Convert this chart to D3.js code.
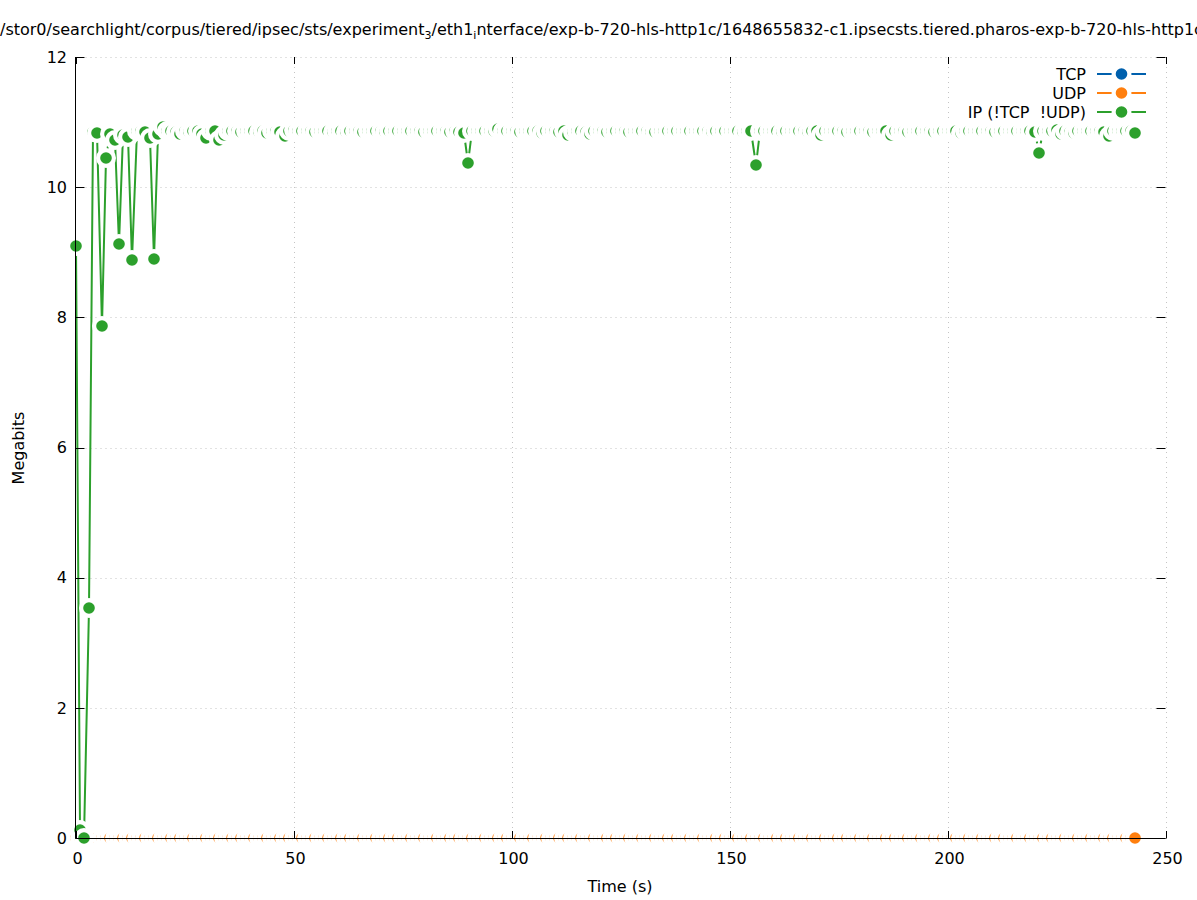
<!DOCTYPE html>
<html><head><meta charset="utf-8">
<script src="https://cdn.jsdelivr.net/npm/d3@7"></script>
<style>
body{margin:0;background:#fff}
svg{display:block;font-family:"DejaVu Sans",sans-serif}
</style>
</head><body>
<svg id="c" width="1197" height="900"></svg>
<script>
// ---- data ----
const times = [
 0,1,2,3,4,5,6,7,8,9,10,11,12,13,14,15,16,17,18,19,
 20,21,22,23,24,25,26,27,28,29,30,31,32,33,34,35,36,37,38,39,
 40,41,42,43,44,45,46,47,48,49,50,51,52,53,54,55,56,57,58,59,
 60,61,62,63,64,65,66,67,68,69,70,71,72,73,74,75,76,77,78,79,
 80,81,82,83,84,85,86,87,88,89,90,91,92,93,94,95,96,97,98,99,
 100,101,102,103,104,105,106,107,108,109,110,111,112,113,114,115,116,117,118,119,
 120,121,122,123,124,125,126,127,128,129,130,131,132,133,134,135,136,137,138,139,
 140,141,142,143,144,145,146,147,148,149,150,151,152,153,154,155,156,157,158,159,
 160,161,162,163,164,165,166,167,168,169,170,171,172,173,174,175,176,177,178,179,
 180,181,182,183,184,185,186,187,188,189,190,191,192,193,194,195,196,197,198,199,
 200,201,202,203,204,205,206,207,208,209,210,211,212,213,214,215,216,217,218,219,
 220,221,222,223,224,225,226,227,228,229,230,231,232,233,234,235,236,237,238,239,
 240,241,242,243
];
const tcpValues = [
 0,0,0,0,0,0,0,0,0,0,0,0,0,0,0,0,0,0,0,0,0,0,0,0,0,0,0,0,0,0,0,0,0,0,0,0,0,0,0,0,
 0,0,0,0,0,0,0,0,0,0,0,0,0,0,0,0,0,0,0,0,0,0,0,0,0,0,0,0,0,0,0,0,0,0,0,0,0,0,0,0,
 0,0,0,0,0,0,0,0,0,0,0,0,0,0,0,0,0,0,0,0,0,0,0,0,0,0,0,0,0,0,0,0,0,0,0,0,0,0,0,0,
 0,0,0,0,0,0,0,0,0,0,0,0,0,0,0,0,0,0,0,0,0,0,0,0,0,0,0,0,0,0,0,0,0,0,0,0,0,0,0,0,
 0,0,0,0,0,0,0,0,0,0,0,0,0,0,0,0,0,0,0,0,0,0,0,0,0,0,0,0,0,0,0,0,0,0,0,0,0,0,0,0,
 0,0,0,0,0,0,0,0,0,0,0,0,0,0,0,0,0,0,0,0,0,0,0,0,0,0,0,0,0,0,0,0,0,0,0,0,0,0,0,0,
 0,0,0,0
];
const udpValues = [
 0,0,0,0,0,0,0,0,0,0,0,0,0,0,0,0,0,0,0,0,0,0,0,0,0,0,0,0,0,0,0,0,0,0,0,0,0,0,0,0,
 0,0,0,0,0,0,0,0,0,0,0,0,0,0,0,0,0,0,0,0,0,0,0,0,0,0,0,0,0,0,0,0,0,0,0,0,0,0,0,0,
 0,0,0,0,0,0,0,0,0,0,0,0,0,0,0,0,0,0,0,0,0,0,0,0,0,0,0,0,0,0,0,0,0,0,0,0,0,0,0,0,
 0,0,0,0,0,0,0,0,0,0,0,0,0,0,0,0,0,0,0,0,0,0,0,0,0,0,0,0,0,0,0,0,0,0,0,0,0,0,0,0,
 0,0,0,0,0,0,0,0,0,0,0,0,0,0,0,0,0,0,0,0,0,0,0,0,0,0,0,0,0,0,0,0,0,0,0,0,0,0,0,0,
 0,0,0,0,0,0,0,0,0,0,0,0,0,0,0,0,0,0,0,0,0,0,0,0,0,0,0,0,0,0,0,0,0,0,0,0,0,0,0,0,
 0,0,0,0
];
const ipValues = [
 9.10, 0.13, 0.00, 3.53, 10.85, 10.83, 7.87, 10.45, 10.81, 10.73,
 9.12, 10.80, 10.77, 8.88, 10.86, 10.87, 10.85, 10.75, 8.90, 10.82,
 10.92, 10.87, 10.86, 10.85, 10.81, 10.86, 10.84, 10.86, 10.87, 10.82,
 10.76, 10.86, 10.87, 10.73, 10.80, 10.86, 10.87, 10.86, 10.85, 10.86,
 10.86, 10.86, 10.85, 10.86, 10.83, 10.86, 10.86, 10.84, 10.78, 10.86,
 10.88, 10.87, 10.86, 10.86, 10.86, 10.85, 10.86, 10.86, 10.86, 10.85,
 10.86, 10.86, 10.85, 10.86, 10.86, 10.86, 10.85, 10.86, 10.86, 10.86,
 10.86, 10.85, 10.86, 10.86, 10.86, 10.86, 10.87, 10.86, 10.86, 10.86,
 10.85, 10.86, 10.86, 10.86, 10.86, 10.86, 10.85, 10.86, 10.84, 10.83,
 10.37, 10.86, 10.86, 10.86, 10.86, 10.86, 10.87, 10.90, 10.86, 10.86,
 10.86, 10.86, 10.85, 10.86, 10.86, 10.86, 10.86, 10.83, 10.86, 10.86,
 10.86, 10.85, 10.87, 10.80, 10.84, 10.86, 10.86, 10.85, 10.82, 10.86,
 10.86, 10.86, 10.85, 10.86, 10.86, 10.86, 10.86, 10.85, 10.86, 10.86,
 10.86, 10.86, 10.85, 10.84, 10.86, 10.86, 10.86, 10.87, 10.86, 10.86,
 10.86, 10.86, 10.86, 10.87, 10.86, 10.86, 10.85, 10.86, 10.86, 10.86,
 10.86, 10.86, 10.86, 10.85, 10.86, 10.86, 10.34, 10.86, 10.86, 10.86,
 10.86, 10.86, 10.85, 10.86, 10.87, 10.86, 10.86, 10.86, 10.85, 10.86,
 10.86, 10.80, 10.86, 10.86, 10.87, 10.86, 10.86, 10.85, 10.86, 10.86,
 10.86, 10.86, 10.86, 10.85, 10.86, 10.86, 10.87, 10.80, 10.86, 10.86,
 10.86, 10.85, 10.86, 10.86, 10.86, 10.86, 10.86, 10.85, 10.86, 10.86,
 10.86, 10.86, 10.87, 10.83, 10.86, 10.86, 10.87, 10.86, 10.86, 10.86,
 10.86, 10.85, 10.86, 10.86, 10.86, 10.86, 10.86, 10.86, 10.86, 10.86,
 10.85, 10.52, 10.86, 10.86, 10.86, 10.88, 10.82, 10.86, 10.85, 10.83,
 10.86, 10.86, 10.86, 10.86, 10.86, 10.86, 10.85, 10.78, 10.86, 10.86,
 10.86, 10.86, 10.86, 10.83
];
const seriesNames = ["TCP", "UDP", "IP (!TCP  !UDP)"];
const seriesColors = ["#0060ad", "#ff7f0e", "#2ca02c"];
const xTicks = [0, 50, 100, 150, 200, 250];
const yTicks = [0, 2, 4, 6, 8, 10, 12];
const xLabel = "Time (s)";
const yLabel = "Megabits";
const titleParts = [
  ["/stor0/searchlight/corpus/tiered/ipsec/sts/experiment", false],
  ["3", true],
  ["/eth1", false],
  ["i", true],
  ["nterface/exp-b-720-hls-http1c/1648655832-c1.ipsecsts.tiered.pharos-exp-b-720-hls-http1c", false]
];

// ---- layout ----
const L = 75.5, R = 1165.5, T = 57, B = 838;
const svg = d3.select("#c");
const x = d3.scaleLinear().domain([0, 250]).range([L, R]);
const y = d3.scaleLinear().domain([0, 12]).range([B, T]);

// grid
const grid = svg.append("g").attr("stroke", "#c4c4c4").attr("stroke-width", 1)
  .attr("stroke-dasharray", "1,4");
grid.selectAll("line.gx").data(xTicks.filter(d => d > 0)).join("line")
  .attr("x1", d => Math.round(x(d)) + 0.5).attr("x2", d => Math.round(x(d)) + 0.5)
  .attr("y1", B).attr("y2", T);
grid.selectAll("line.gy").data(yTicks.filter(d => d > 0)).join("line")
  .attr("y1", d => Math.round(y(d)) + 0.5).attr("y2", d => Math.round(y(d)) + 0.5)
  .attr("x1", L).attr("x2", R);

// series
const seriesData = [tcpValues, udpValues, ipValues];
const RW = 10, RP = 5.8;
seriesData.forEach((vals, si) => {
  const pts = times.map((t, i) => ({t: t, v: vals[i]}));
  const g = svg.append("g");
  g.append("path").datum(pts)
    .attr("fill", "none").attr("stroke", seriesColors[si]).attr("stroke-width", 2)
    .attr("stroke-linejoin", "round")
    .attr("d", d3.line().x(d => Math.round(x(d.t))).y(d => Math.round(y(d.v))));
  const pg = g.selectAll("g.pt").data(pts).join("g").attr("class", "pt")
    .attr("transform", d => `translate(${Math.round(x(d.t))},${Math.round(y(d.v))})`);
  pg.append("circle").attr("r", RW).attr("fill", "#fff");
  pg.append("circle").attr("r", RP).attr("fill", seriesColors[si]);
});

// border (left + bottom)
svg.append("path").attr("fill", "none").attr("stroke", "#000").attr("stroke-width", 1)
  .attr("d", `M${L},${T}V${B + 0.5}H${R}`);

// ticks
const tk = svg.append("g").attr("stroke", "#000").attr("stroke-width", 1);
yTicks.forEach(v => {
  const py = Math.round(y(v)) + 0.5;
  tk.append("line").attr("x1", L).attr("x2", L + 9).attr("y1", py).attr("y2", py);
  tk.append("line").attr("x1", R - 9).attr("x2", R).attr("y1", py).attr("y2", py);
});
xTicks.forEach(v => {
  const px = Math.round(x(v)) + 0.5;
  tk.append("line").attr("x1", px).attr("x2", px).attr("y1", B + 0.5).attr("y2", B - 7);
  tk.append("line").attr("x1", px).attr("x2", px).attr("y1", T).attr("y2", T + 7);
});

// tick labels
svg.append("g").selectAll("text").data(yTicks).join("text")
  .attr("x", 67).attr("y", d => y(d)).attr("dy", "0.36em")
  .attr("text-anchor", "end").attr("font-size", 16).attr("fill", "#000")
  .text(d => d);
svg.append("g").selectAll("text").data(xTicks).join("text")
  .attr("x", d => x(d) + 2).attr("y", 864)
  .attr("text-anchor", "middle").attr("font-size", 16).attr("fill", "#000")
  .text(d => d);

// axis labels
svg.append("text").attr("x", 620).attr("y", 892).attr("text-anchor", "middle")
  .attr("font-size", 16).text(xLabel);
svg.append("text").attr("transform", "translate(24,448) rotate(-90)")
  .attr("text-anchor", "middle").attr("font-size", 16).text(yLabel);

// title (subscripts shift down 4px, following text shifts back)
const title = svg.append("text").attr("x", 0).attr("y", 35).attr("font-size", 16)
  .attr("text-anchor", "start");
let prevSub = false;
titleParts.forEach(([s, sub]) => {
  let dy = 0;
  if (sub && !prevSub) dy = 4;
  if (!sub && prevSub) dy = -4;
  title.append("tspan").attr("font-size", sub ? 11 : 16).attr("dy", dy).text(s);
  prevSub = sub;
});

// legend
const lg = svg.append("g");
seriesNames.forEach((name, i) => {
  const ly = 74 + i * 19;
  lg.append("text").attr("x", 1086).attr("y", ly).attr("dy", "0.36em")
    .attr("text-anchor", "end").attr("font-size", 16).attr("xml:space", "preserve")
    .style("white-space", "pre").text(name);
  lg.append("line").attr("x1", 1097).attr("x2", 1146).attr("y1", ly).attr("y2", ly)
    .attr("stroke", seriesColors[i]).attr("stroke-width", 2);
  lg.append("circle").attr("cx", 1121.5).attr("cy", ly).attr("r", RW).attr("fill", "#fff");
  lg.append("circle").attr("cx", 1121.5).attr("cy", ly).attr("r", RP).attr("fill", seriesColors[i]);
});
</script>
</body></html>
